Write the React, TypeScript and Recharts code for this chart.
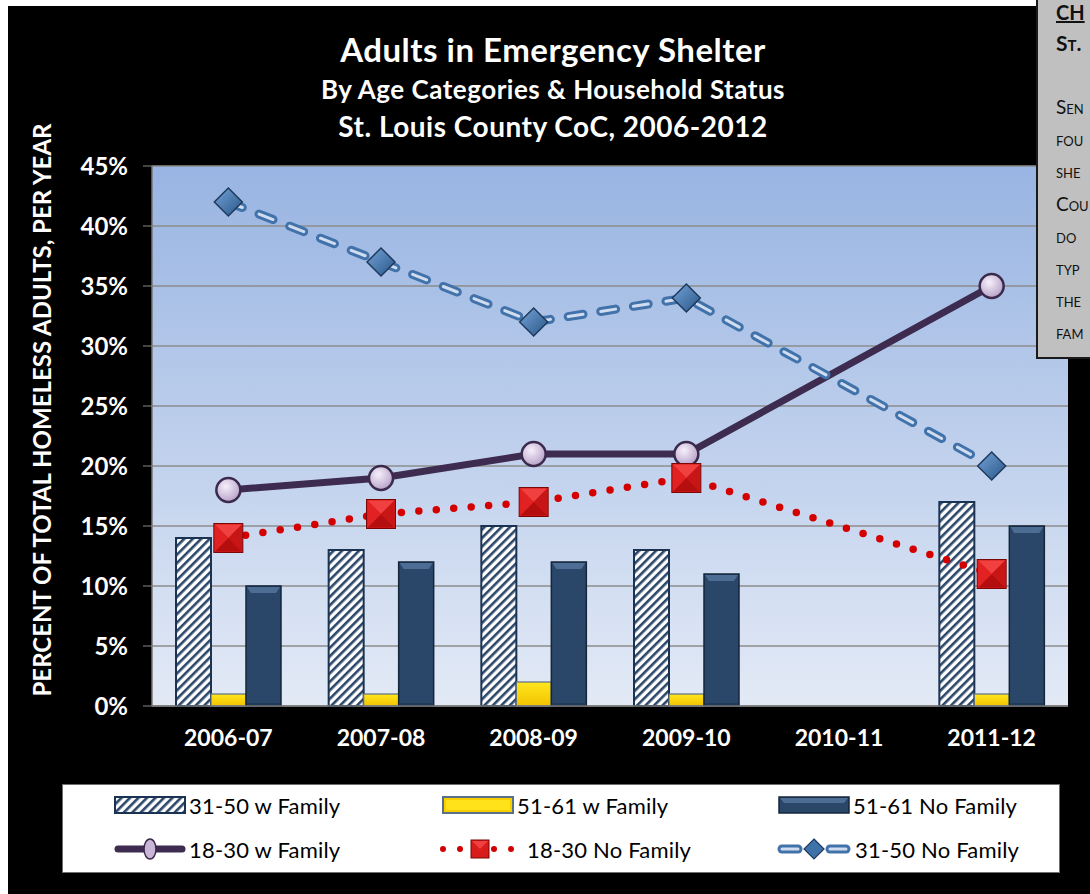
import React from "react";
import {
  ComposedChart,
  Bar,
  Line,
  XAxis,
  YAxis,
  CartesianGrid,
} from "recharts";

const categories = ["2006-07", "2007-08", "2008-09", "2009-10", "2010-11", "2011-12"];
const w3150 = [14, 13, 15, 13, null, 17];
const w5161 = [1, 1, 2, 1, null, 1];
const nf5161 = [10, 12, 12, 11, null, 15];
const w1830 = [18, 19, 21, 21, null, 35];
const nf1830 = [14, 16, 17, 19, null, 11];
const nf3150 = [42, 37, 32, 34, null, 20];
const yTicks = [0, 5, 10, 15, 20, 25, 30, 35, 40, 45];

// the side note is cut off by the page edge in the original, only its first letters show
const sideHead = ["CH", "St."];
const sideNote = ["Sen", "fou", "she", "Cou", "do", "typ", "the", "fam"];

const data = categories.map((c, i) => ({
  cat: c,
  w3150: w3150[i],
  w5161: w5161[i],
  nf5161: nf5161[i],
  w1830: w1830[i],
  nf1830: nf1830[i],
  nf3150: nf3150[i],
}));

const FONT = "Lato, 'Open Sans', sans-serif";

function CircleDot(props: any) {
  const { cx, cy, index } = props;
  if (cx == null || cy == null || props.value == null) return <g key={`c${index}`} />;
  return (
    <circle key={`c${index}`} cx={cx} cy={cy} r={12} fill="url(#circGrad)" stroke="#3b2a4c" strokeWidth={2.5} />
  );
}

function SquareDot(props: any) {
  const { cx, cy, index } = props;
  if (cx == null || cy == null || props.value == null) return <g key={`s${index}`} />;
  const h = 14.5;
  return (
    <g key={`s${index}`}>
      <rect x={cx - h} y={cy - h} width={2 * h} height={2 * h} fill="#d81b1b" stroke="#7a0606" strokeWidth={1} />
      <polygon points={`${cx - h + 1},${cy - h + 1} ${cx + h - 1},${cy - h + 1} ${cx},${cy}`} fill="#f04040" />
      <polygon points={`${cx - h + 1},${cy + h - 1} ${cx + h - 1},${cy + h - 1} ${cx},${cy}`} fill="#b40e0e" />
      <polygon points={`${cx - h + 1},${cy - h + 1} ${cx - h + 1},${cy + h - 1} ${cx},${cy}`} fill="#e22222" />
      <polygon points={`${cx + h - 1},${cy - h + 1} ${cx + h - 1},${cy + h - 1} ${cx},${cy}`} fill="#c81616" />
    </g>
  );
}

function DiamondDot(props: any) {
  const { cx, cy, index } = props;
  if (cx == null || cy == null || props.value == null) return <g key={`d${index}`} />;
  const h = 14;
  return (
    <polygon
      key={`d${index}`}
      points={`${cx},${cy - h} ${cx + h},${cy} ${cx},${cy + h} ${cx - h},${cy}`}
      fill="url(#diaGrad)"
      stroke="#1e3a5c"
      strokeWidth={1.5}
    />
  );
}

function NavyBar(props: any) {
  const { x, y, width, height } = props;
  if (!height || height <= 0) return <g />;
  const b = 5;
  return (
    <g>
      <rect x={x} y={y} width={width} height={height} fill="#2a4669" stroke="#15263b" strokeWidth={1.5} />
      <polygon
        points={`${x + 1},${y + 1} ${x + width - 1},${y + 1} ${x + width - b},${y + b + 2} ${x + b},${y + b + 2}`}
        fill="#4d6d95"
      />
      <rect x={x + 1} y={y + height - 3} width={width - 2} height={2} fill="#213a58" />
    </g>
  );
}

function YellowBar(props: any) {
  const { x, y, width, height } = props;
  if (!height || height <= 0) return <g />;
  return <rect x={x} y={y} width={width} height={height} fill="url(#yelGrad)" stroke="#5a6f88" strokeWidth={1.2} />;
}

function HatchBar(props: any) {
  const { x, y, width, height } = props;
  if (!height || height <= 0) return <g />;
  return <rect x={x} y={y} width={width} height={height} fill="url(#hatch)" stroke="#1b3352" strokeWidth={2} />;
}

function LegendIcon({ kind }: { kind: string }) {
  if (kind === "hatch")
    return (
      <svg width={72} height={20}>
        <defs>
          <pattern id="lhatch" width={6} height={6} patternUnits="userSpaceOnUse" patternTransform="rotate(45)">
            <rect width={6} height={6} fill="#ffffff" />
            <rect width={2.6} height={6} fill="#2b4668" />
          </pattern>
        </defs>
        <rect x={1} y={2} width={70} height={16} fill="url(#lhatch)" stroke="#1b3352" strokeWidth={2} />
      </svg>
    );
  if (kind === "yellow")
    return (
      <svg width={72} height={20}>
        <rect x={1} y={2} width={70} height={16} fill="#f7cf00" stroke="#5a6f88" strokeWidth={2} />
        <rect x={4} y={5} width={64} height={10} fill="#ffe21a" />
      </svg>
    );
  if (kind === "navy")
    return (
      <svg width={72} height={20}>
        <rect x={1} y={2} width={70} height={16} fill="#2a4669" stroke="#15263b" strokeWidth={1.5} />
        <polygon points="2,3 70,3 66,8 6,8" fill="#4d6d95" />
      </svg>
    );
  if (kind === "circle")
    return (
      <svg width={72} height={24}>
        <line x1={4} y1={12} x2={68} y2={12} stroke="#3e2c50" strokeWidth={7} strokeLinecap="round" />
        <ellipse cx={36} cy={12} rx={6} ry={10} fill="#c9b5d8" stroke="#3b2a4c" strokeWidth={1.5} />
      </svg>
    );
  if (kind === "square")
    return (
      <svg width={84} height={24}>
        <line x1={3} y1={12} x2={80} y2={12} stroke="#d00000" strokeWidth={6} strokeLinecap="round" strokeDasharray="0 17" />
        <rect x={31} y={3} width={18} height={18} fill="#d81b1b" stroke="#7a0606" strokeWidth={1} />
        <polygon points="32,4 48,4 40,12" fill="#f04040" />
      </svg>
    );
  return (
    <svg width={76} height={24}>
      <line x1={6} y1={12} x2={70} y2={12} stroke="#4272aa" strokeWidth={9} strokeLinecap="round" strokeDasharray="16 48" />
      <line x1={6} y1={12} x2={70} y2={12} stroke="#d0ddf0" strokeWidth={3} strokeLinecap="round" strokeDasharray="16 48" />
      <line x1={54} y1={12} x2={70} y2={12} stroke="#4272aa" strokeWidth={9} strokeLinecap="round" />
      <line x1={54} y1={12} x2={70} y2={12} stroke="#d0ddf0" strokeWidth={3} strokeLinecap="round" />
      <polygon points="38,2 48,12 38,22 28,12" fill="#3f72aa" stroke="#1e3a5c" strokeWidth={1.2} />
    </svg>
  );
}

const legendItems = [
  { label: "31-50 w Family", kind: "hatch", left: 114, top: 793 },
  { label: "51-61 w Family", kind: "yellow", left: 442, top: 793 },
  { label: "51-61 No Family", kind: "navy", left: 778, top: 793 },
  { label: "18-30 w Family", kind: "circle", left: 114, top: 837 },
  { label: "18-30 No Family", kind: "square", left: 440, top: 837 },
  { label: "31-50 No Family", kind: "diamond", left: 776, top: 837 },
];

export default function App() {
  return (
    <div
      style={{
        position: "fixed",
        left: 0,
        top: 0,
        width: 1090,
        height: 894,
        overflow: "hidden",
        background: "#ffffff",
        fontFamily: FONT,
      }}
    >
      <div style={{ position: "absolute", left: 8, top: 6, right: 0, bottom: 0, background: "#000000" }} />

      <div style={{ position: "absolute", left: 0, top: 0 }}>
        <ComposedChart
          width={1090}
          height={894}
          data={data}
          margin={{ top: 166, right: 22, bottom: 148, left: 60 }}
          barGap={0}
          barSize={35}
        >
          <defs>
            <linearGradient id="plotBg" x1="0" y1="0" x2="0" y2="1">
              <stop offset="0%" stopColor="#98b4e2" />
              <stop offset="100%" stopColor="#e3eaf6" />
            </linearGradient>
            <pattern id="hatch" width={6} height={6} patternUnits="userSpaceOnUse" patternTransform="rotate(45)">
              <rect width={6} height={6} fill="#ffffff" />
              <rect width={2.6} height={6} fill="#2b4668" />
            </pattern>
            <linearGradient id="yelGrad" x1="0" y1="0" x2="0" y2="1">
              <stop offset="0%" stopColor="#ffe61e" />
              <stop offset="100%" stopColor="#f2c200" />
            </linearGradient>
            <radialGradient id="circGrad" cx="40%" cy="35%" r="70%">
              <stop offset="0%" stopColor="#f6f0fa" />
              <stop offset="100%" stopColor="#b49dc6" />
            </radialGradient>
            <linearGradient id="diaGrad" x1="0" y1="0" x2="1" y2="1">
              <stop offset="0%" stopColor="#74a3d8" />
              <stop offset="100%" stopColor="#2a5687" />
            </linearGradient>
          </defs>
          <CartesianGrid vertical={false} stroke="#8c8c8c" strokeWidth={1.5} fill="url(#plotBg)" fillOpacity={1} />
          <XAxis
            dataKey="cat"
            height={40}
            axisLine={{ stroke: "#777777", strokeWidth: 1.5 }}
            tickLine={false}
            tickSize={6}
            tickMargin={18}
            tick={{ fill: "#ffffff", fontSize: 23, fontWeight: 700, fontFamily: FONT }}
          />
          <YAxis
            width={92}
            domain={[0, 45]}
            ticks={yTicks}
            interval={0}
            tickFormatter={(v) => `${v}%`}
            axisLine={{ stroke: "#777777", strokeWidth: 1.5 }}
            tickLine={{ stroke: "#888888" }}
            tickSize={9}
            tickMargin={15}
            tick={{ fill: "#ffffff", fontSize: 24, fontWeight: 700, fontFamily: FONT }}
          />
          <Bar dataKey="w3150" name="31-50 w Family" shape={<HatchBar />} isAnimationActive={false} />
          <Bar dataKey="w5161" name="51-61 w Family" shape={<YellowBar />} isAnimationActive={false} />
          <Bar dataKey="nf5161" name="51-61 No Family" shape={<NavyBar />} isAnimationActive={false} />
          <Line
            dataKey="w1830"
            name="18-30 w Family"
            stroke="#3e2c50"
            strokeWidth={7}
            connectNulls
            dot={CircleDot}
            activeDot={false}
            isAnimationActive={false}
          />
          <Line
            dataKey="nf1830"
            name="18-30 No Family"
            stroke="#d40000"
            strokeWidth={7.5}
            strokeLinecap="round"
            strokeDasharray="0 17.5"
            connectNulls
            dot={SquareDot}
            activeDot={false}
            isAnimationActive={false}
          />
          <Line
            dataKey="nf3150"
            name="31-50 No Family"
            stroke="#4272aa"
            strokeWidth={9}
            strokeLinecap="round"
            strokeDasharray="15 18"
            connectNulls
            dot={false}
            activeDot={false}
            legendType="none"
            isAnimationActive={false}
          />
          <Line
            dataKey="nf3150"
            name="31-50 No Family inner"
            stroke="#d0ddf0"
            strokeWidth={3}
            strokeLinecap="round"
            strokeDasharray="15 18"
            connectNulls
            dot={DiamondDot}
            activeDot={false}
            isAnimationActive={false}
          />
        </ComposedChart>
      </div>

      <div
        style={{
          position: "absolute",
          left: 0,
          width: 1106,
          top: 33,
          textAlign: "center",
          color: "#ffffff",
          fontWeight: 700,
          lineHeight: 1,
          letterSpacing: 0.5,
        }}
      >
        <div style={{ fontSize: 33, height: 43 }}>Adults in Emergency Shelter</div>
        <div style={{ fontSize: 26, height: 36 }}>By Age Categories &amp; Household Status</div>
        <div style={{ fontSize: 28 }}>St. Louis County CoC, 2006-2012</div>
      </div>

      <div
        style={{
          position: "absolute",
          left: 42 - 320,
          top: 410 - 15,
          width: 640,
          height: 30,
          lineHeight: "30px",
          textAlign: "center",
          transform: "rotate(-90deg)",
          color: "#ffffff",
          fontWeight: 700,
          fontSize: 24,
          whiteSpace: "nowrap",
        }}
      >
        PERCENT OF TOTAL HOMELESS ADULTS, PER YEAR
      </div>

      <div
        style={{
          position: "absolute",
          left: 62,
          top: 784,
          width: 996,
          height: 87,
          background: "#ffffff",
          border: "1px solid #6e6e6e",
        }}
      />
      {legendItems.map((it) => (
        <div
          key={it.label}
          style={{
            position: "absolute",
            left: it.left,
            top: it.top,
            display: "flex",
            alignItems: "center",
            gap: 3,
            fontSize: 22,
            letterSpacing: 0.2,
            color: "#000000",
            whiteSpace: "nowrap",
            height: 24,
          }}
        >
          <LegendIcon kind={it.kind} />
          <span>{it.label}</span>
        </div>
      ))}

      <div
        style={{
          position: "absolute",
          left: 1036,
          top: -2,
          width: 80,
          height: 361,
          background: "#c0c0c0",
          border: "2px solid #1a1a1a",
          boxSizing: "border-box",
          fontFamily: FONT,
          color: "#111111",
        }}
      >
        <div
          style={{
            position: "absolute",
            left: 18,
            top: 0,
            fontWeight: 700,
            fontSize: 20,
            textDecoration: "underline",
          }}
        >
          {sideHead[0]}
        </div>
        <div style={{ position: "absolute", left: 18, top: 30, fontWeight: 700, fontSize: 21, fontVariant: "small-caps" }}>
          {sideHead[1]}
        </div>
        {sideNote.map((t, i) => (
          <div
            key={t}
            style={{
              position: "absolute",
              left: 18,
              top: 95 + i * 32.2,
              fontSize: 19,
              fontVariant: "small-caps",
              whiteSpace: "nowrap",
            }}
          >
            {t}
          </div>
        ))}
      </div>
    </div>
  );
}
